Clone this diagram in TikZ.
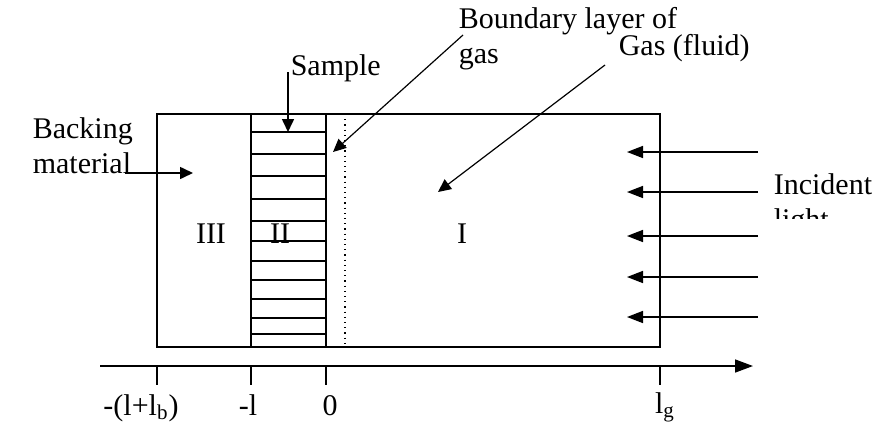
\documentclass[tikz,border=0pt]{standalone}
\usepackage{fontspec}
\setmainfont{Liberation Serif}
\usetikzlibrary{arrows.meta, positioning}

\begin{document}
\begin{tikzpicture}[x=0.5pt, y=-0.5pt, line width=0.8pt,
    font=\fontsize{15}{17.5}\selectfont,
    lbl/.style={inner sep=0pt, align=left},
    arr/.style={-{Triangle[length=6.5pt, width=6pt]}},
    beam/.style={-{Triangle[length=8pt, width=6pt]}}]
    \useasboundingbox (0,0) rectangle (883,429);

    % regions III, II and I
    \draw (157,114) rectangle (660,347);
    \draw (251,114) -- (251,347);
    \draw (326,114) -- (326,347);
    \draw[dotted, line width=0.6pt] (345,114) -- (345,347);
    \foreach \y in {132,154,176,199,221,241,261,280,299,318,334}
        \draw (251,\y) -- (326,\y);
    \node[lbl, anchor=base] (rIII) at (211,243) {III};
    \node[lbl, anchor=base] (rII) at (280,243) {II};
    \node[lbl, anchor=base] (rI) at (462,243) {I};

    % x axis
    \coordinate (axl) at (100,366);
    \coordinate (axr) at (753,366);
    \draw[-{Triangle[length=9pt, width=6.5pt]}] (axl) -- (axr);
    \foreach \x in {157,251,326,660}
        \draw[line width=0.6pt] (\x,366) -- (\x,385);
    \node[lbl, anchor=base] (tb) at (141,415) {-(l+l\textsubscript{b})};
    \node[lbl, anchor=base] (tl) at (248,415) {-l};
    \node[lbl, anchor=base] (tz) at (330,415) {0};
    \node[lbl, anchor=base] (tg) at (665,413) {l\textsubscript{g}};

    % labels (base = last line)
    \node[lbl, anchor=base west] (backing) at (32,173) {Backing\\material};
    \node[lbl, anchor=base west] (sample) at (290,75) {Sample};
    \node[lbl, anchor=base west] (boundary) at (458,63) {Boundary layer of\\gas};
    \node[lbl, anchor=base west] (gas) at (618,55) {Gas (fluid)};
    \begin{scope}
        \clip (760,160) rectangle (883,218);
        \node[lbl, anchor=base west] (incident) at (773,229) {Incident\\light};
    \end{scope}

    % pointers
    \coordinate (backs) at (125,173);
    \coordinate (backe) at (193,173);
    \coordinate (samps) at (288,72);
    \coordinate (sampe) at (288,132);
    \coordinate (bnds) at (463,35);
    \coordinate (bnde) at (333,152);
    \coordinate (gass) at (605,65);
    \coordinate (gase) at (438,192);
    \draw[arr] (backs) -- (backe);
    \draw[arr] (samps) -- (sampe);
    \draw[arr, line width=0.6pt] (bnds) -- (bnde);
    \draw[arr, line width=0.6pt] (gass) -- (gase);

    % incident light
    \foreach \y [count=\i] in {152,192,236,277,317} {
        \coordinate (ls\i) at (758,\y);
        \coordinate (le\i) at (627,\y);
        \draw[beam] (ls\i) -- (le\i);
    }
\end{tikzpicture}
\end{document}
